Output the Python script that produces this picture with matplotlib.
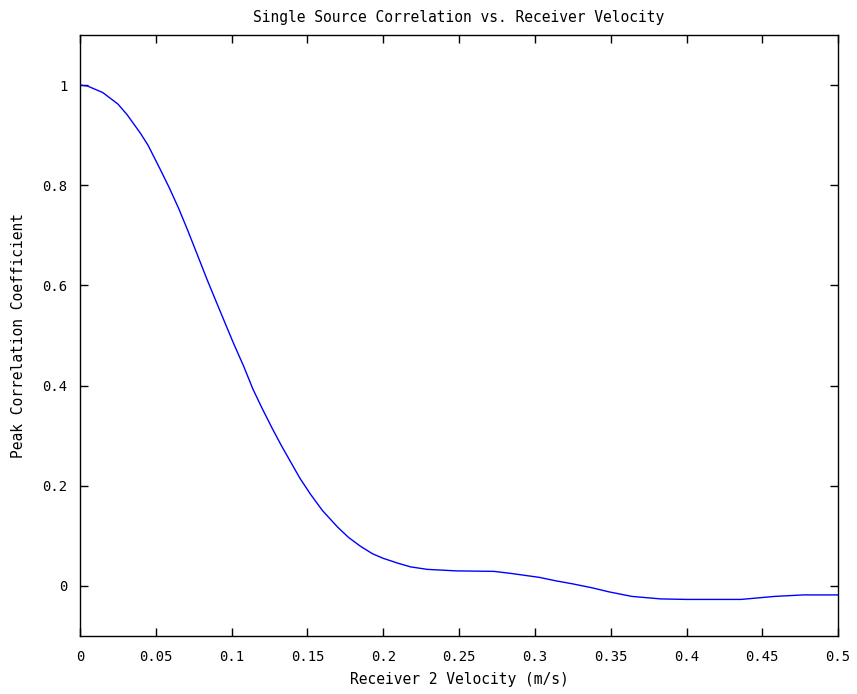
import matplotlib
matplotlib.use('Agg')
import matplotlib.pyplot as plt
import numpy as np

# receiver 2 velocity (m/s) and peak correlation coefficient
velocity = [0, 0.005, 0.015, 0.025, 0.031, 0.04, 0.045, 0.053, 0.059, 0.065,
            0.071, 0.077, 0.084, 0.09, 0.097, 0.101, 0.108, 0.114, 0.12, 0.127,
            0.133, 0.139, 0.145, 0.152, 0.16, 0.17, 0.177, 0.185, 0.193, 0.2,
            0.21, 0.218, 0.229, 0.248, 0.273, 0.284, 0.303, 0.314, 0.325, 0.338,
            0.349, 0.364, 0.383, 0.40, 0.436, 0.447, 0.458, 0.477, 0.5]
peak_corr = [1.0, 0.998, 0.985, 0.962, 0.941, 0.903, 0.879, 0.831, 0.794, 0.754,
             0.710, 0.664, 0.610, 0.566, 0.515, 0.486, 0.438, 0.393, 0.355, 0.313,
             0.279, 0.247, 0.215, 0.183, 0.150, 0.117, 0.097, 0.079, 0.064, 0.055,
             0.045, 0.038, 0.033, 0.030, 0.029, 0.025, 0.017, 0.010, 0.004, -0.004,
             -0.012, -0.021, -0.026, -0.027, -0.027, -0.024, -0.021, -0.018, -0.018]

x_ticks = [0, 0.05, 0.1, 0.15, 0.2, 0.25, 0.3, 0.35, 0.4, 0.45, 0.5]
x_labels = ['0', '0.05', '0.1', '0.15', '0.2', '0.25', '0.3', '0.35', '0.4', '0.45', '0.5']
y_ticks = [0, 0.2, 0.4, 0.6, 0.8, 1]
y_labels = ['0', '0.2', '0.4', '0.6', '0.8', '1']

plt.rcParams['font.family'] = ['DejaVu Sans Mono']

fig = plt.figure(figsize=(8.57, 6.94), dpi=100)
ax = fig.add_axes([0.0934, 0.0836, 0.8846, 0.866])

ax.plot(velocity, peak_corr, color='#0000ff', linewidth=1.0)

ax.set_xlim(0, 0.5)
ax.set_ylim(-0.1, 1.1)
ax.set_xticks(x_ticks)
ax.set_xticklabels(x_labels)
ax.set_yticks(y_ticks)
ax.set_yticklabels(y_labels)
ax.tick_params(direction='in', length=6, width=1, top=True, right=True,
               labelsize=10)
ax.tick_params(axis='x', pad=10)
ax.tick_params(axis='y', pad=9)
for s in ax.spines.values():
    s.set_linewidth(1.0)

ax.set_title('Single Source Correlation vs. Receiver Velocity', fontsize=10.5, pad=9)
ax.set_xlabel('Receiver 2 Velocity (m/s)', fontsize=10.5, labelpad=6)
ax.set_ylabel('Peak Correlation Coefficient', fontsize=10.5, labelpad=12)

fig.savefig('out.png', dpi=100)
